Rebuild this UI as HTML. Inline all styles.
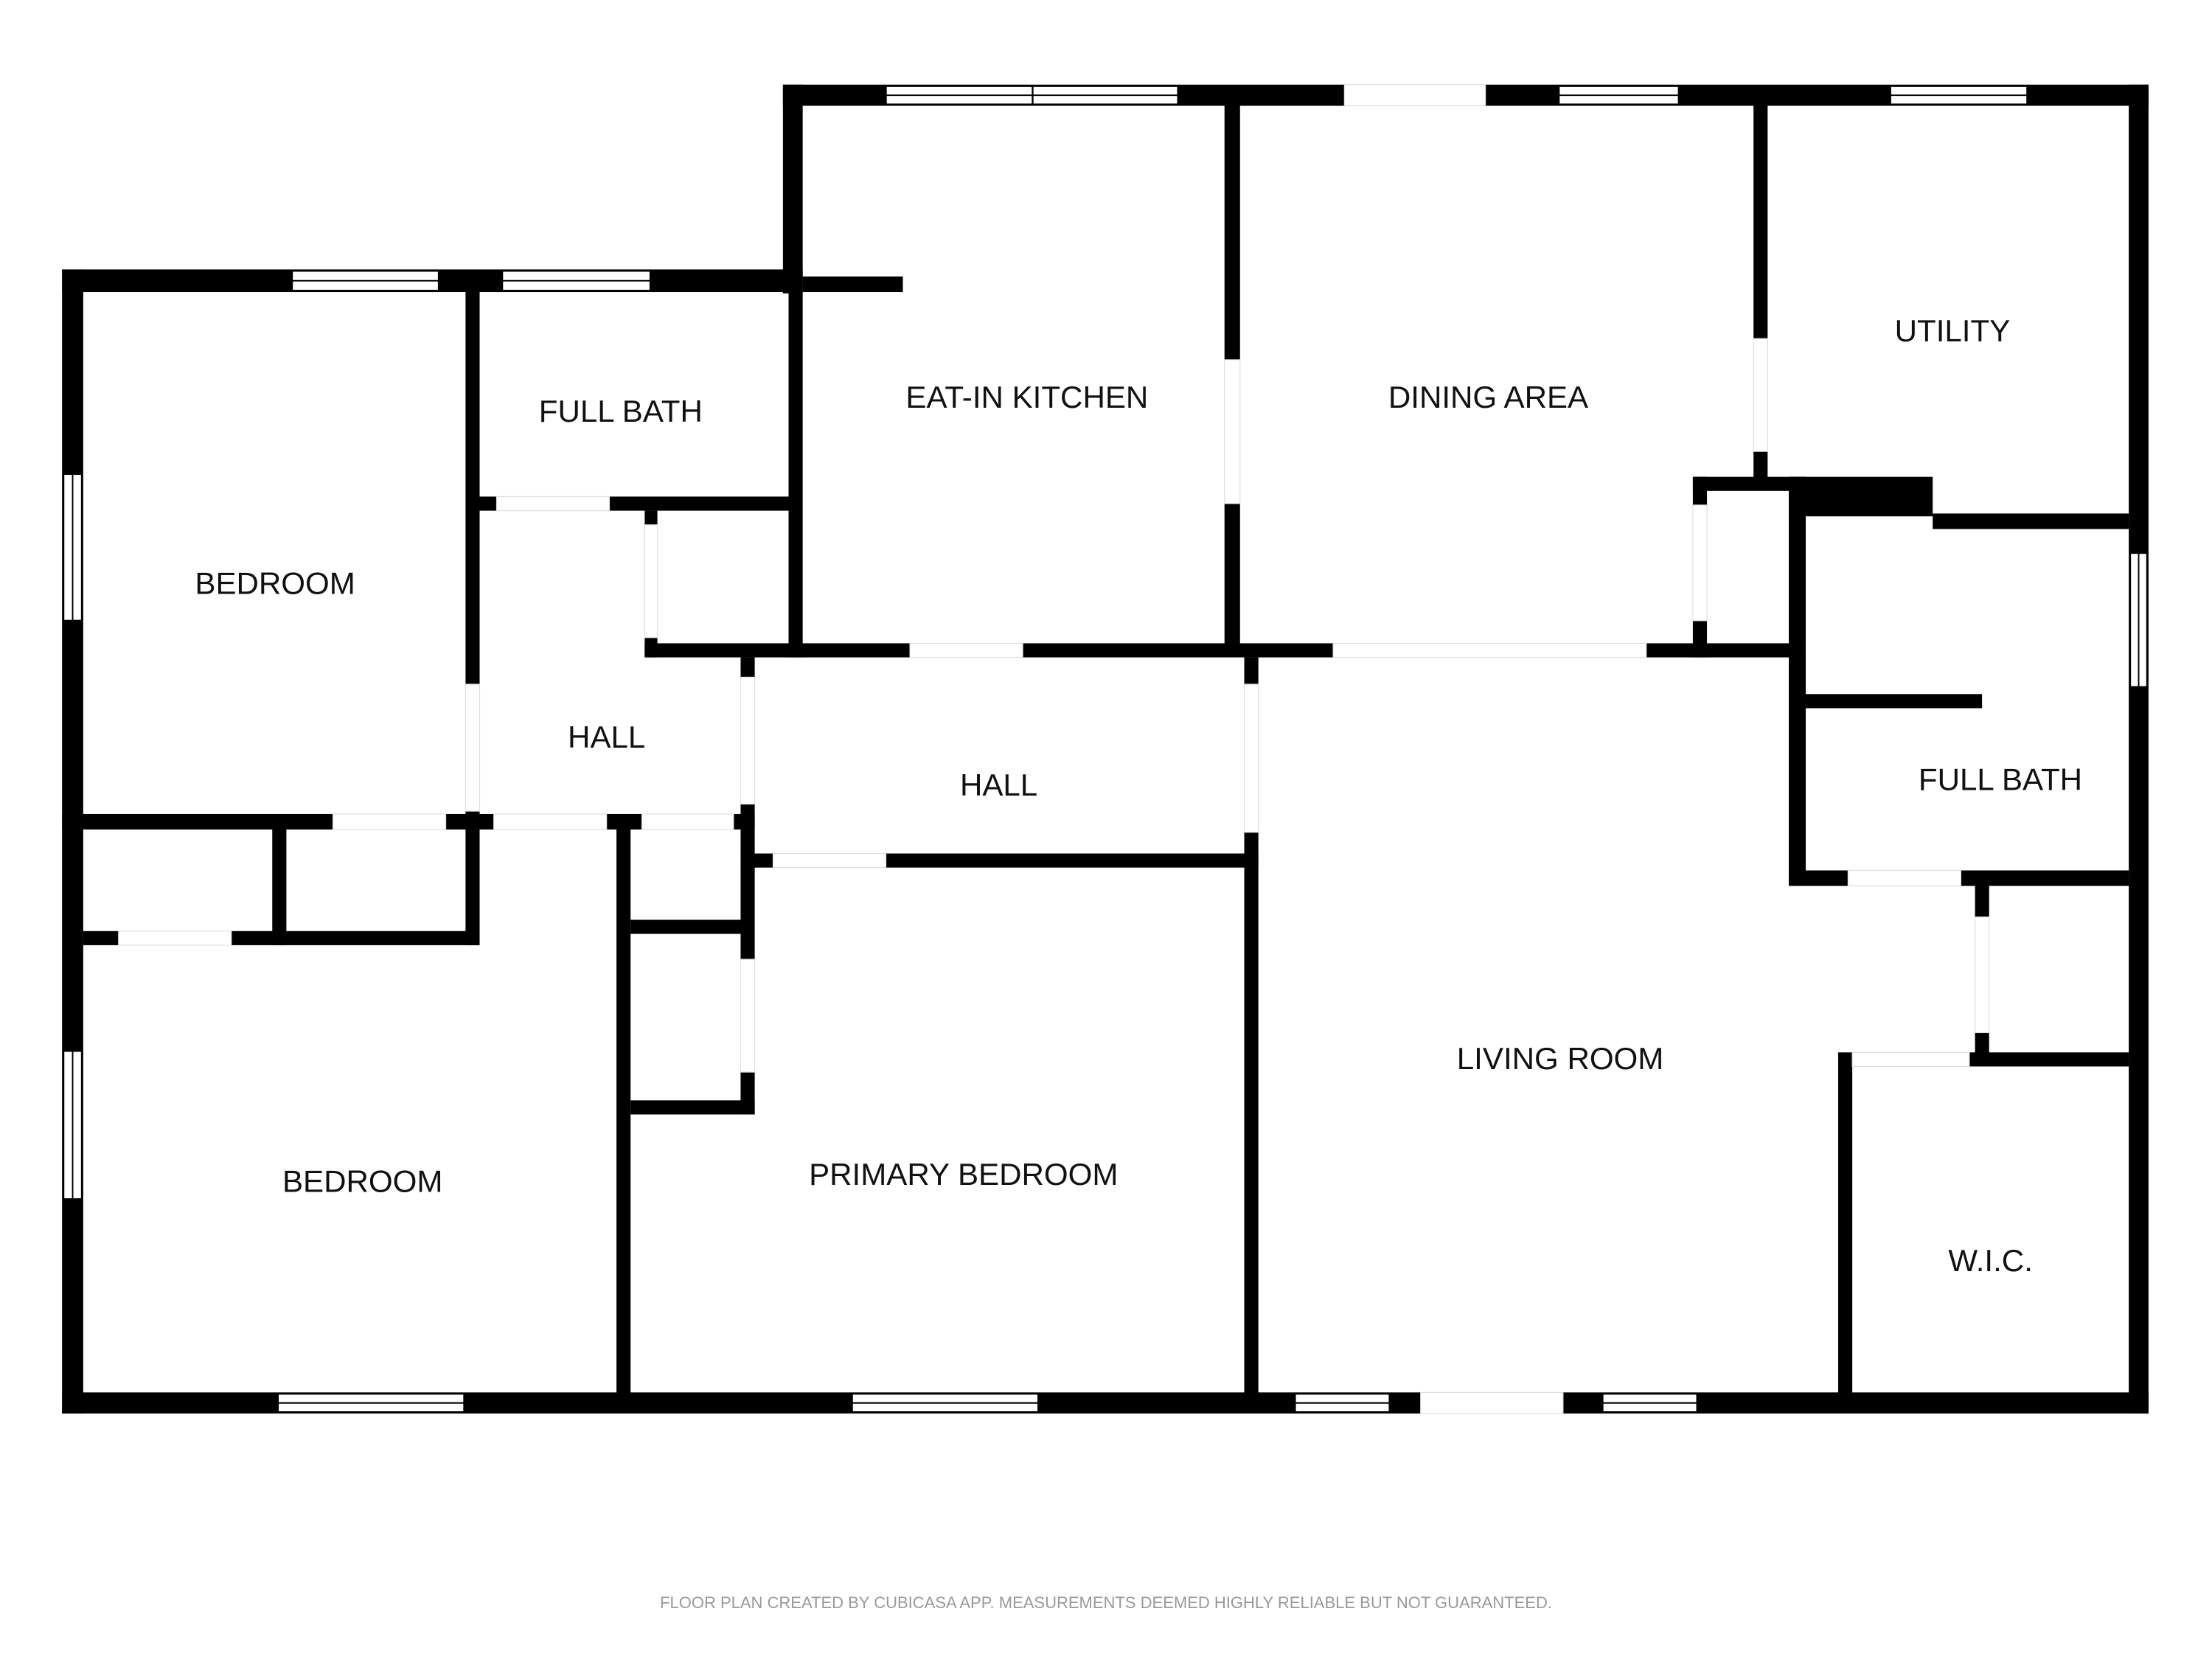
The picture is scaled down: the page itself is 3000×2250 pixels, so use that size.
<!DOCTYPE html>
<html><head><meta charset="utf-8"><style>
html,body{margin:0;padding:0;background:#fff}
svg{display:block}
text{font-family:"Liberation Sans",sans-serif;fill:#111}
</style></head><body>
<svg width="3000" height="2250" viewBox="0 0 1568 1176" xmlns="http://www.w3.org/2000/svg">
<rect width="1568" height="1176" fill="#fff"/>
<g fill="#000">
<!-- exterior -->
<rect x="555" y="60" width="968" height="15"/>
<rect x="555" y="60" width="14" height="148"/>
<rect x="44" y="191" width="525" height="16"/>
<rect x="44" y="191" width="15" height="811"/>
<rect x="44" y="987" width="1479" height="15"/>
<rect x="1509" y="60" width="14" height="942"/>
<!-- left interior -->
<rect x="330" y="207" width="10" height="463"/>
<rect x="340" y="352" width="220" height="10"/>
<rect x="559" y="207" width="10" height="259"/>
<rect x="569" y="196" width="71" height="11"/>
<rect x="457" y="362" width="9" height="104"/>
<rect x="457" y="456" width="823" height="10"/>
<rect x="868" y="74" width="11" height="388"/>
<rect x="1243" y="74" width="10" height="266"/>
<rect x="1200" y="338" width="10" height="128"/>
<rect x="1200" y="338" width="80" height="10"/>
<rect x="1268" y="338" width="12" height="290"/>
<rect x="1268" y="338" width="102" height="28"/>
<rect x="1370" y="364" width="139" height="11"/>
<rect x="1280" y="492" width="125" height="10"/>
<rect x="1268" y="617" width="241" height="11"/>
<rect x="1400" y="628" width="10" height="127"/>
<rect x="1396" y="746" width="113" height="10"/>
<rect x="1303" y="746" width="10" height="249"/>
<rect x="525" y="466" width="10" height="324"/>
<rect x="44" y="577" width="491" height="11"/>
<rect x="882" y="466" width="10" height="529"/>
<rect x="628" y="605" width="264" height="10"/>
<rect x="525" y="605" width="23" height="10"/>
<rect x="437" y="588" width="10" height="407"/>
<rect x="447" y="652" width="83" height="10"/>
<rect x="447" y="780" width="88" height="10"/>
<rect x="193" y="588" width="10" height="82"/>
<rect x="59" y="660" width="281" height="10"/>
</g>
<!-- door gaps -->
<g fill="#fff" stroke="#ddd" stroke-width="0.6">
<rect x="953" y="60" width="100" height="15"/>
<rect x="1007" y="987" width="101" height="15"/>
<rect x="330" y="485" width="10" height="90"/>
<rect x="352" y="352" width="80" height="10"/>
<rect x="457" y="372" width="9" height="80"/>
<rect x="645" y="456" width="80" height="10"/>
<rect x="945" y="456" width="222" height="10"/>
<rect x="868" y="255" width="11" height="102"/>
<rect x="1243" y="240" width="10" height="80"/>
<rect x="1200" y="358" width="10" height="82"/>
<rect x="1310" y="617" width="80" height="11"/>
<rect x="1400" y="650" width="10" height="82"/>
<rect x="1313" y="746" width="83" height="10"/>
<rect x="525" y="480" width="10" height="90"/>
<rect x="525" y="680" width="10" height="80"/>
<rect x="236" y="577" width="80" height="11"/>
<rect x="350" y="577" width="80" height="11"/>
<rect x="455" y="577" width="65" height="11"/>
<rect x="882" y="485" width="10" height="105"/>
<rect x="548" y="605" width="80" height="10"/>
<rect x="84" y="660" width="80" height="10"/>
</g>
<!-- windows -->
<g fill="#fff" stroke="#000" stroke-width="1.2">
<rect x="628" y="61" width="104" height="13"/><rect x="732" y="61" width="103" height="13"/>
<rect x="1105" y="61" width="85" height="13"/>
<rect x="1340" y="61" width="97" height="13"/>
<rect x="207" y="192" width="104" height="14"/>
<rect x="356" y="192" width="105" height="14"/>
<rect x="45" y="336" width="13" height="104"/>
<rect x="45" y="745" width="13" height="105"/>
<rect x="1510" y="392" width="12" height="95"/>
<rect x="197" y="988" width="132" height="13"/>
<rect x="604" y="988" width="132" height="13"/>
<rect x="918" y="988" width="67" height="13"/>
<rect x="1136" y="988" width="67" height="13"/>
</g>
<g stroke="#000" stroke-width="1">
<line x1="628" y1="67.5" x2="835" y2="67.5"/>
<line x1="1105" y1="67.5" x2="1190" y2="67.5"/>
<line x1="1340" y1="67.5" x2="1437" y2="67.5"/>
<line x1="207" y1="199" x2="311" y2="199"/>
<line x1="356" y1="199" x2="461" y2="199"/>
<line x1="51.5" y1="336" x2="51.5" y2="440"/>
<line x1="51.5" y1="745" x2="51.5" y2="850"/>
<line x1="1516" y1="392" x2="1516" y2="487"/>
<line x1="197" y1="994.5" x2="329" y2="994.5"/>
<line x1="604" y1="994.5" x2="736" y2="994.5"/>
<line x1="918" y1="994.5" x2="985" y2="994.5"/>
<line x1="1136" y1="994.5" x2="1203" y2="994.5"/>
</g>
<g font-size="22" text-anchor="middle">
<text x="440" y="299">FULL BATH</text>
<text x="728" y="289">EAT-IN KITCHEN</text>
<text x="1055" y="289">DINING AREA</text>
<text x="1384" y="242">UTILITY</text>
<text x="195" y="421">BEDROOM</text>
<text x="430" y="530">HALL</text>
<text x="708" y="564">HALL</text>
<text x="1418" y="560">FULL BATH</text>
<text x="1106" y="758">LIVING ROOM</text>
<text x="257" y="845">BEDROOM</text>
<text x="683" y="840">PRIMARY BEDROOM</text>
<text x="1411" y="901">W.I.C.</text>
</g>
<text x="784" y="1140" font-size="11.5" text-anchor="middle" style="fill:#999">FLOOR PLAN CREATED BY CUBICASA APP. MEASUREMENTS DEEMED HIGHLY RELIABLE BUT NOT GUARANTEED.</text>
</svg>
</body></html>
